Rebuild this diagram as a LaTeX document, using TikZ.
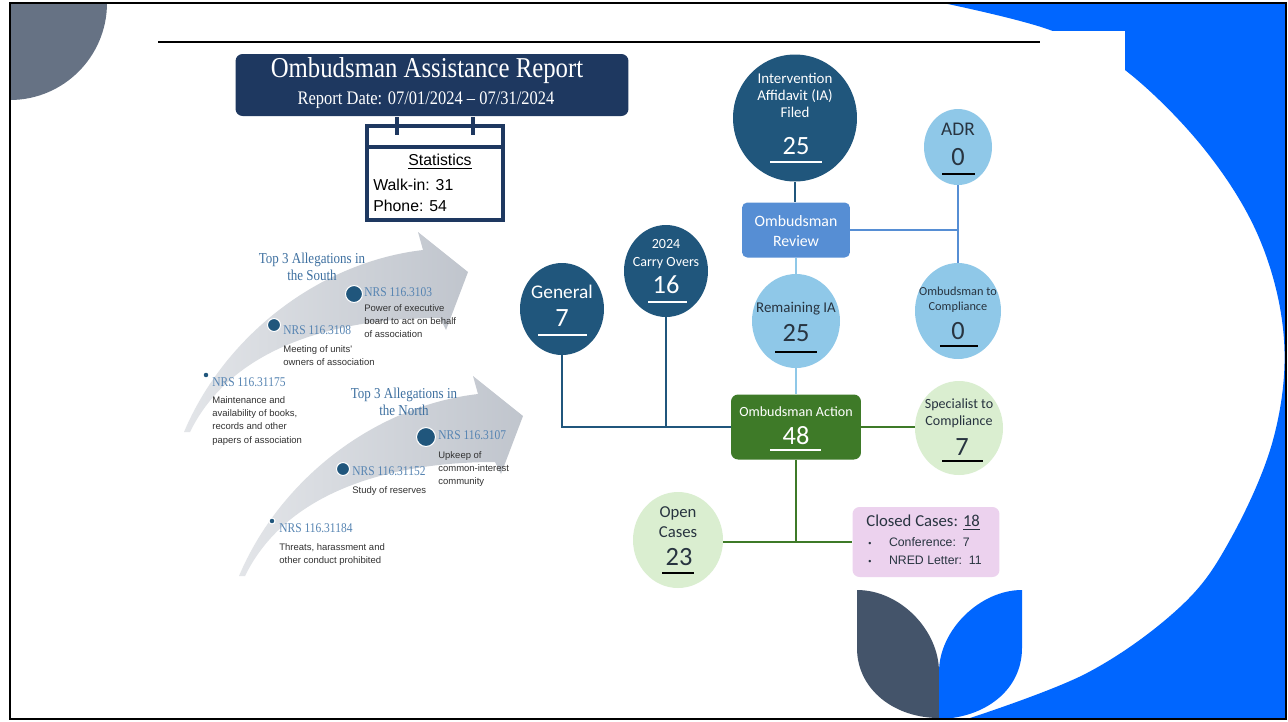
\documentclass[tikz,border=0pt]{standalone}
\usepackage{fontspec}
\newfontfamily\carlito{Carlito}
\newfontfamily\arialfont{Liberation Sans}
\newfontfamily\narrowserif[FakeStretch=0.86,Ligatures=TeX]{Liberation Serif}
\usetikzlibrary{shapes.geometric}

\definecolor{slideblue}{RGB}{0,102,255}
\definecolor{leafdark}{RGB}{68,84,106}
\definecolor{cornergray}{RGB}{102,114,132}
\definecolor{titlenavy}{RGB}{30,56,96}
\definecolor{balldark}{RGB}{32,86,124}
\definecolor{reviewblue}{RGB}{86,142,212}
\definecolor{balllight}{RGB}{143,200,232}
\definecolor{actiongreen}{RGB}{62,122,40}
\definecolor{ballgreen}{RGB}{218,238,208}
\definecolor{closedpink}{RGB}{236,210,238}
\definecolor{arrowgray}{RGB}{192,197,205}
\definecolor{codeblue}{RGB}{86,132,178}
\definecolor{headblue}{RGB}{62,112,160}
\definecolor{desctext}{RGB}{50,50,50}
\definecolor{balltext}{RGB}{40,52,64}

\tikzset{
  dball/.style={ellipse, fill=balldark, inner sep=0pt},
  lball/.style={ellipse, fill=balllight, inner sep=0pt},
  gball/.style={ellipse, fill=ballgreen, inner sep=0pt},
  wtxt/.style={text=white, align=center, inner sep=0pt},
  ktxt/.style={text=balltext, align=center, inner sep=0pt},
  num/.style={font=\carlito\fontsize{15}{15}\selectfont},
  code/.style={text=codeblue, anchor=west, inner sep=0pt, font=\narrowserif\fontsize{7.6}{8}\selectfont},
  desc/.style={text=desctext, anchor=north west, align=left, inner sep=0pt, font=\arialfont\fontsize{5.4}{7.6}\selectfont},
  head/.style={text=headblue, align=center, inner sep=0pt, font=\narrowserif\fontsize{8.6}{10}\selectfont},
  dot/.style={circle, fill=balldark, draw=white, line width=0.6pt, inner sep=0pt},
  tealline/.style={draw=balldark, line width=1.6pt},
  reviewline/.style={draw=reviewblue, line width=1.6pt},
  paleline/.style={draw=balllight, line width=1.4pt},
  greenline/.style={draw=actiongreen, line width=1.6pt},
}

\begin{document}
\begin{tikzpicture}[x=0.02cm,y=-0.02cm]
\useasboundingbox (0,0) rectangle (1288,721);
\fill[white] (0,0) rectangle (1288,721);

% slide decoration
\fill[slideblue] plot[smooth, tension=0.6] coordinates {(943,3) (1050,30) (1125,70) (1205,150) (1260,240) (1284,340) (1273,440) (1230,540) (1180,607) (1087,673) (967,719)} -- (1286,719) -- (1286,3) -- cycle;
\fill[white] (950,31) rectangle (1125,120);
\fill[cornergray] (10,3) -- (107,3) arc[start angle=0, end angle=90, radius=97] -- cycle;
\fill[leafdark] (857,590) -- (857,648) .. controls (857,690) and (895,718) .. (939,718) -- (939,672) .. controls (939,630) and (900,590) .. (857,590) -- cycle;
\fill[slideblue] (1022,590) -- (1022,648) .. controls (1022,690) and (985,718) .. (939,719) -- (939,672) .. controls (939,630) and (980,590) .. (1022,590) -- cycle;
\draw[line width=1.2pt] (10,3) rectangle (1286,719);
\draw[line width=0.7pt] (158,42) -- (1040,42);

% title and statistics
\node[fill=titlenavy, rounded corners=4pt, minimum width=7.86cm, minimum height=1.24cm] (title) at (432,85) {};
\node[text=white, inner sep=0pt, font=\narrowserif\fontsize{16.4}{17}\selectfont] (title-t) at (427,71) {Ombudsman Assistance Report};
\node[text=white, inner sep=0pt, font=\narrowserif\fontsize{10.9}{11}\selectfont] (title-d) at (426,100) {Report Date: 07/01/2024 \textendash{} 07/31/2024};
\node[draw=titlenavy, line width=1.8pt, minimum width=2.72cm, minimum height=1.88cm] (stats) at (435,173) {};
\draw[titlenavy, line width=1.8pt] (stats.west |- 0,147) -- (stats.east |- 0,147);
\draw[titlenavy, line width=1.8pt] (397,117) -- (397,135);
\draw[titlenavy, line width=1.8pt] (473,117) -- (473,135);
\node[inner sep=0pt, font=\arialfont\fontsize{9}{10}\selectfont] (stats-t) at (440,162) {\underline{Statistics}};
\node[anchor=west, inner sep=0pt, font=\arialfont\fontsize{9}{10}\selectfont] (stats-w) at (373,185) {Walk-in: 31};
\node[anchor=west, inner sep=0pt, font=\arialfont\fontsize{9}{10}\selectfont] (stats-p) at (373,206) {Phone: 54};

% allegation arrows
\foreach \dx/\dy in {0/0,55/144}{
  \shade[left color=arrowgray!45, right color=arrowgray, shift={(\dx,\dy)}]
    (184,432) .. controls (225,335) and (320,262) .. (423,250) -- (418,232) -- (468,272) -- (446,330) -- (440,318) .. controls (330,318) and (230,350) .. (190,432) -- cycle;
}

% south
\node[head] (south) at (312,267) {Top 3 Allegations in\\the South};
\node[dot, minimum size=0.34cm] (s1) at (354,294) {};
\node[code] (s1-c) at (364,292) {NRS 116.3103};
\node[desc] (s1-d) at (364,304) {Power of executive\\board to act on behalf\\of association};
\node[dot, minimum size=0.26cm] (s2) at (274,325) {};
\node[code] (s2-c) at (283,330) {NRS 116.3108};
\node[desc] (s2-d) at (283,345) {Meeting of units'\\owners of association};
\node[dot, minimum size=0.12cm] (s3) at (206,375) {};
\node[code] (s3-c) at (212,382) {NRS 116.31175};
\node[desc] (s3-d) at (212,396) {Maintenance and\\availability of books,\\records and other\\papers of association};

% north
\node[head] (north) at (404,402) {Top 3 Allegations in\\the North};
\node[dot, minimum size=0.38cm] (n1) at (426,437) {};
\node[code] (n1-c) at (438,435) {NRS 116.3107};
\node[desc] (n1-d) at (438,451) {Upkeep of\\common-interest\\community};
\node[dot, minimum size=0.26cm] (n2) at (343,469) {};
\node[code] (n2-c) at (352,471) {NRS 116.31152};
\node[desc] (n2-d) at (352,486) {Study of reserves};
\node[dot, minimum size=0.12cm] (n3) at (272,521) {};
\node[code] (n3-c) at (279,528) {NRS 116.31184};
\node[desc] (n3-d) at (279,543) {Threats, harassment and\\other conduct prohibited};

% case flow
\node[dball, minimum width=2.48cm, minimum height=2.54cm] (ia) at (795,118) {};
\node[fill=reviewblue, rounded corners=3pt, minimum width=2.16cm, minimum height=1.1cm] (review) at (796,230) {};
\node[lball, minimum width=1.76cm, minimum height=1.88cm] (remain) at (796,321) {};
\node[fill=actiongreen, rounded corners=4pt, minimum width=2.6cm, minimum height=1.3cm] (action) at (796,427) {};
\node[lball, minimum width=1.36cm, minimum height=1.52cm] (adr) at (958,147) {};
\node[lball, minimum width=1.72cm, minimum height=1.92cm] (otc) at (958,311) {};
\node[gball, minimum width=1.76cm, minimum height=1.88cm] (spec) at (959,428) {};
\node[dball, minimum width=1.68cm, minimum height=1.84cm] (gen) at (562,309) {};
\node[dball, minimum width=1.68cm, minimum height=1.84cm] (carry) at (666,271) {};
\node[gball, minimum width=1.8cm, minimum height=1.92cm] (open) at (678,540) {};
\node[fill=closedpink, rounded corners=4pt, minimum width=2.94cm, minimum height=1.4cm] (closed) at (926,542) {};

\draw[tealline] (ia.south) -- (ia.south |- review.north);
\draw[reviewline] (review.east) -- (review.east -| adr.south);
\draw[reviewline] (adr.south) -- (otc.north);
\draw[paleline] (review.south) -- (remain.north);
\draw[paleline] (remain.south) -- (action.north);
\draw[tealline] (action.west) -- (action.west -| gen.south) -- (gen.south);
\draw[tealline] (carry.south) -- (carry.south |- action.west);
\draw[greenline] (action.east) -- (action.east -| spec.west);
\draw[greenline] (action.south) -- (action.south |- closed.west);
\draw[greenline] (open.east |- closed.west) -- (closed.west);

\node[wtxt, font=\carlito\fontsize{8.5}{9.7}\selectfont] (ia-t) at (795,95) {Intervention\\Affidavit (IA)\\Filed};
\node[wtxt, num] (ia-n) at (796,146) {25};
\draw[white, line width=1.2pt] (770,162) -- (822,162);
\node[wtxt, font=\carlito\fontsize{9}{11.4}\selectfont] (review-t) at (796,231) {Ombudsman\\Review};
\node[ktxt, font=\carlito\fontsize{8.5}{9}\selectfont] (remain-t) at (796,309) {Remaining IA};
\node[ktxt, num] (remain-n) at (796,333) {25};
\draw[black, line width=1.2pt] (775,352) -- (817,352);
\node[wtxt, font=\carlito\fontsize{8}{9}\selectfont] (action-t) at (796,412) {Ombudsman Action};
\node[wtxt, num] (action-n) at (796,436) {48};
\draw[white, line width=1.2pt] (770,450) -- (821,450);
\node[ktxt, font=\carlito\fontsize{11}{12}\selectfont] (adr-t) at (958,129) {ADR};
\node[ktxt, num] (adr-n) at (958,157) {0};
\draw[black, line width=1.2pt] (942,174) -- (975,174);
\node[ktxt, font=\carlito\fontsize{7}{8.5}\selectfont] (otc-t) at (958,300) {Ombudsman to\\Compliance};
\node[ktxt, num] (otc-n) at (958,331) {0};
\draw[black, line width=1.2pt] (940,346) -- (978,346);
\node[ktxt, font=\carlito\fontsize{8}{9.7}\selectfont] (spec-t) at (959,413) {Specialist to\\Compliance};
\node[ktxt, num] (spec-n) at (962,447) {7};
\draw[black, line width=1.2pt] (942,461) -- (983,461);
\node[wtxt, font=\carlito\fontsize{11}{12}\selectfont] (gen-t) at (562,292) {General};
\node[wtxt, num] (gen-n) at (562,318) {7};
\draw[white, line width=1.2pt] (538,335) -- (587,335);
\node[wtxt, font=\carlito\fontsize{8}{10.2}\selectfont] (carry-t) at (666,254) {2024\\Carry Overs};
\node[wtxt, num] (carry-n) at (666,285) {16};
\draw[white, line width=1.2pt] (648,302) -- (687,302);
\node[ktxt, font=\carlito\fontsize{9.5}{11.4}\selectfont] (open-t) at (678,522) {Open\\Cases};
\node[ktxt, num] (open-n) at (679,557) {23};
\draw[black, line width=1.2pt] (662,573) -- (694,573);
\node[text=balltext, anchor=west, inner sep=0pt, font=\carlito\fontsize{9.5}{10}\selectfont] (closed-t) at (866,523) {Closed Cases: \underline{18}};
\node[text=balltext, anchor=west, align=left, inner sep=0pt, font=\arialfont\fontsize{7}{10.2}\selectfont] (closed-l) at (868,551) {{\tiny\textbullet}\hspace{10pt}Conference:\ \ 7\\{\tiny\textbullet}\hspace{10pt}NRED Letter:\ \ 11};
\end{tikzpicture}
\end{document}
